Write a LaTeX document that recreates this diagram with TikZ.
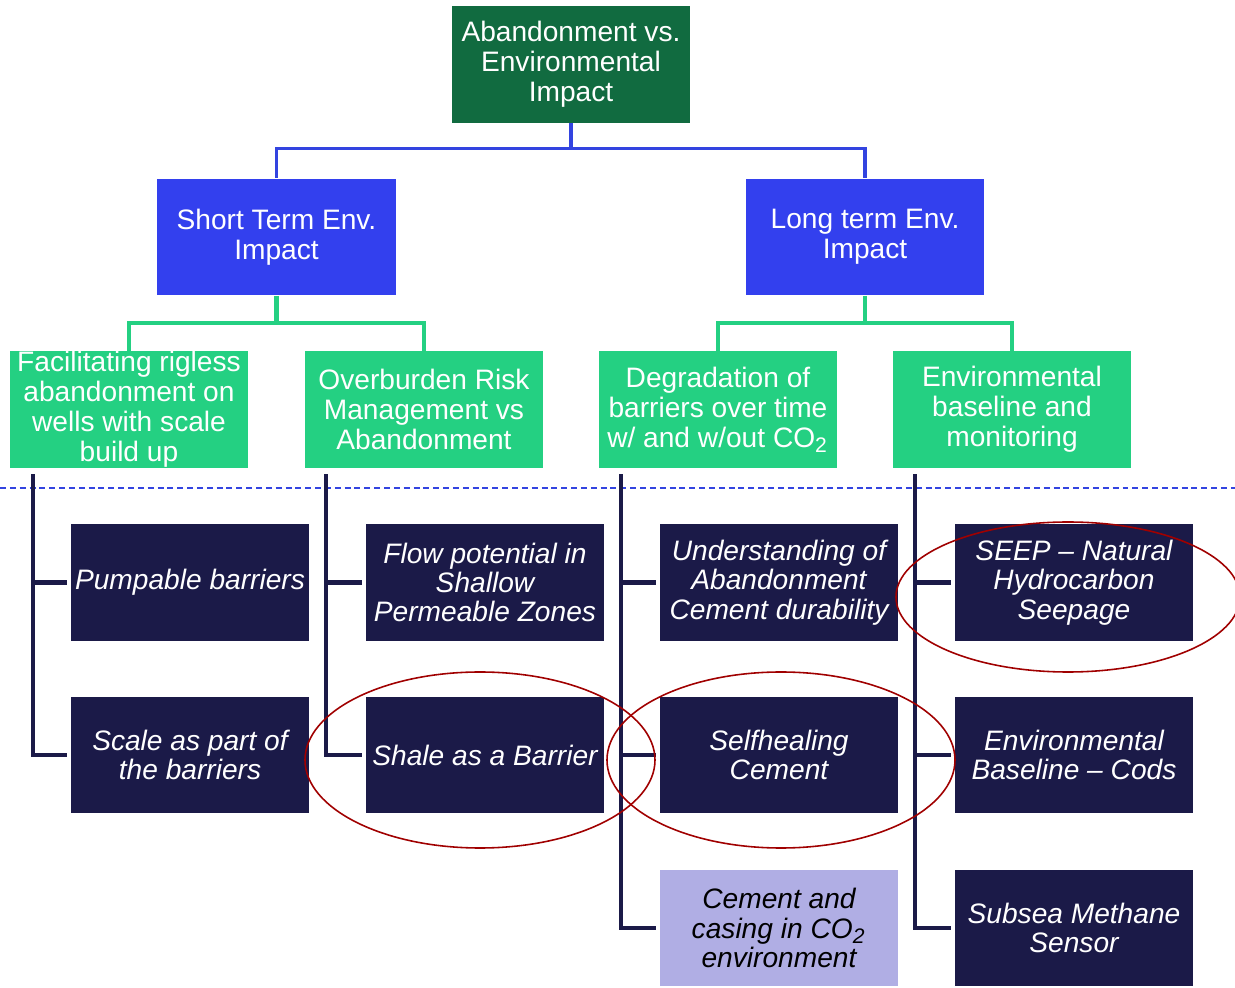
\documentclass[tikz,border=0pt]{standalone}
\usepackage{fontspec}
\setmainfont{Liberation Sans}
\definecolor{topgreen}{HTML}{116B40}
\definecolor{midblue}{HTML}{3340EE}
\definecolor{lightgreen}{HTML}{24D082}
\definecolor{navy}{HTML}{1B1A48}
\definecolor{lavender}{HTML}{B0AEE4}
\definecolor{linkblue}{HTML}{3344E0}
\definecolor{ringred}{HTML}{A00000}
\tikzset{
  box/.style={rectangle, inner sep=0pt, align=center, text=white,
    minimum width=2.38cm, minimum height=1.165cm,
    font=\fontsize{8}{8.5}\selectfont},
  topbox/.style={box, fill=topgreen},
  bluebox/.style={box, fill=midblue},
  greenbox/.style={box, fill=lightgreen},
  leafbox/.style={box, fill=navy, font=\fontsize{8}{8.35}\selectfont\itshape},
  lightleaf/.style={leafbox, fill=lavender, text=black},
  bluelink/.style={draw=linkblue, line width=1.05pt},
  greenlink/.style={draw=lightgreen, line width=1.15pt},
  navylink/.style={draw=navy, line width=1.15pt, shorten >=1pt},
  ring/.style={draw=ringred, line width=0.45pt},
}
\begin{document}
\begin{tikzpicture}[x=0.01cm, y=-0.01cm]
\useasboundingbox (0,0) rectangle (1235,988);

% level 0
\node[topbox] (top) at (571,64.5) {Abandonment vs.\\Environmental\\Impact};
% level 1
\node[bluebox] (short) at (276.5,237) {Short Term Env.\\Impact};
\node[bluebox] (long) at (865,237) {Long term Env.\\Impact};
% level 2
\node[greenbox] (fac) at (129,409.5) {Facilitating rigless\\abandonment on\\wells with scale\\build up};
\node[greenbox] (over) at (424,409.5) {Overburden Risk\\Management vs\\Abandonment};
\node[greenbox] (deg) at (718,409.5) {Degradation of\\barriers over time\\w/ and w/out CO\textsubscript{2}};
\node[greenbox] (env) at (1012,409.5) {Environmental\\baseline and\\monitoring};
% level 3
\node[leafbox] (pump) at (190,582.5) {Pumpable barriers};
\node[leafbox] (scale) at (190,755) {Scale as part of\\the barriers};
\node[leafbox] (flow) at (485,582.5) {Flow potential in\\Shallow\\Permeable Zones};
\node[leafbox] (shale) at (485,755) {Shale as a Barrier};
\node[leafbox] (under) at (779,582.5) {Understanding of\\Abandonment\\Cement durability};
\node[leafbox] (self) at (779,755) {Selfhealing\\Cement};
\node[lightleaf] (cem) at (779,928) {Cement and\\casing in CO\textsubscript{2}\\environment};
\node[leafbox] (seep) at (1074,582.5) {SEEP \textendash{} Natural\\Hydrocarbon\\Seepage};
\node[leafbox] (base) at (1074,755) {Environmental\\Baseline \textendash{} Cods};
\node[leafbox] (meth) at (1074,928) {Subsea Methane\\Sensor};

% blue links
\draw[bluelink] (top.south) -- ++(0,25) -| (short.north);
\draw[bluelink] (top.south) -- ++(0,25) -| (long.north);
% green links
\draw[greenlink] (short.south) -- ++(0,27) -| (fac.north);
\draw[greenlink] (short.south) -- ++(0,27) -| (over.north);
\draw[greenlink] (long.south) -- ++(0,27) -| (deg.north);
\draw[greenlink] (long.south) -- ++(0,27) -| (env.north);

% dashed separator
\draw[linkblue, line width=0.4pt, dash pattern=on 1.7pt off 1.1pt] (0,488) -- (1235,488);

% navy links
\draw[navylink] ([shift={(24,6)}]fac.south west) |- (pump.west);
\draw[navylink] ([shift={(24,6)}]fac.south west) |- (scale.west);
\draw[navylink] ([shift={(22,6)}]over.south west) |- (flow.west);
\draw[navylink] ([shift={(22,6)}]over.south west) |- (shale.west);
\draw[navylink] ([shift={(23,6)}]deg.south west) |- (under.west);
\draw[navylink] ([shift={(23,6)}]deg.south west) |- (self.west);
\draw[navylink] ([shift={(23,6)}]deg.south west) |- (cem.west);
\draw[navylink] ([shift={(23,6)}]env.south west) |- (seep.west);
\draw[navylink] ([shift={(23,6)}]env.south west) |- (base.west);
\draw[navylink] ([shift={(23,6)}]env.south west) |- (meth.west);

% highlight rings
\draw[ring] (1068,597) ellipse [x radius=172, y radius=75];
\draw[ring] (480,760) ellipse [x radius=175, y radius=88];
\draw[ring] (781,760) ellipse [x radius=174, y radius=88];
\end{tikzpicture}
\end{document}
